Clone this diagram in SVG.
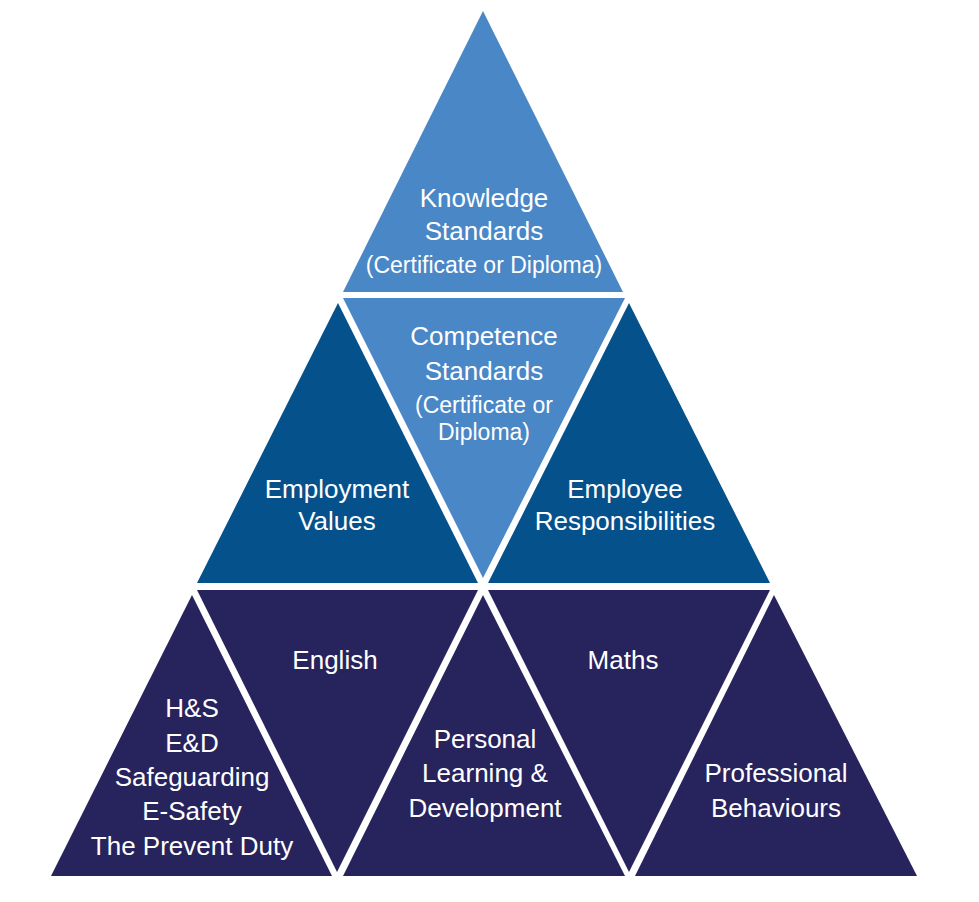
<svg xmlns="http://www.w3.org/2000/svg" width="979" height="902" viewBox="0 0 979 902">
<style>
.light{fill:#4a87c6}
.mid{fill:#05518b}
.dark{fill:#27235c}
text{font-family:"Liberation Sans",Arial,sans-serif;fill:#ffffff;text-anchor:middle;font-size:26px}
.small{font-size:23px}
</style>
<rect x="0" y="0" width="979" height="902" fill="#ffffff"/>
<g id="knowledge">
<polygon class="light" points="483,11 623,292 343,292"/>
<text x="484" y="207">Knowledge</text>
<text x="484" y="240">Standards</text>
<text class="small" x="484" y="273">(Certificate or Diploma)</text>
</g>
<g id="employment-values">
<polygon class="mid" points="338,303 478,583 197,583"/>
<text x="337" y="498">Employment</text>
<text x="337" y="530">Values</text>
</g>
<g id="competence">
<polygon class="light" points="343,298 625,298 483,578"/>
<text x="484" y="345">Competence</text>
<text x="484" y="380">Standards</text>
<text class="small" x="484" y="413">(Certificate or</text>
<text class="small" x="484" y="440">Diploma)</text>
</g>
<g id="employee-responsibilities">
<polygon class="mid" points="629,303 770,583 488,583"/>
<text x="625" y="498">Employee</text>
<text x="625" y="530">Responsibilities</text>
</g>
<g id="hs">
<polygon class="dark" points="192,595 332,876 51,876"/>
<text x="192" y="717">H&amp;S</text>
<text x="192" y="752">E&amp;D</text>
<text x="192" y="786">Safeguarding</text>
<text x="192" y="820">E-Safety</text>
<text x="192" y="855">The Prevent Duty</text>
</g>
<g id="english">
<polygon class="dark" points="197,590 478,590 337,872"/>
<text x="335" y="669">English</text>
</g>
<g id="personal">
<polygon class="dark" points="483,595 625,876 343,876"/>
<text x="485" y="748">Personal</text>
<text x="485" y="782">Learning &amp;</text>
<text x="485" y="817">Development</text>
</g>
<g id="maths">
<polygon class="dark" points="488,590 770,590 629,872"/>
<text x="623" y="669">Maths</text>
</g>
<g id="professional">
<polygon class="dark" points="774,595 917,876 635,876"/>
<text x="776" y="782">Professional</text>
<text x="776" y="817">Behaviours</text>
</g>
<g id="connectors"></g>
</svg>
